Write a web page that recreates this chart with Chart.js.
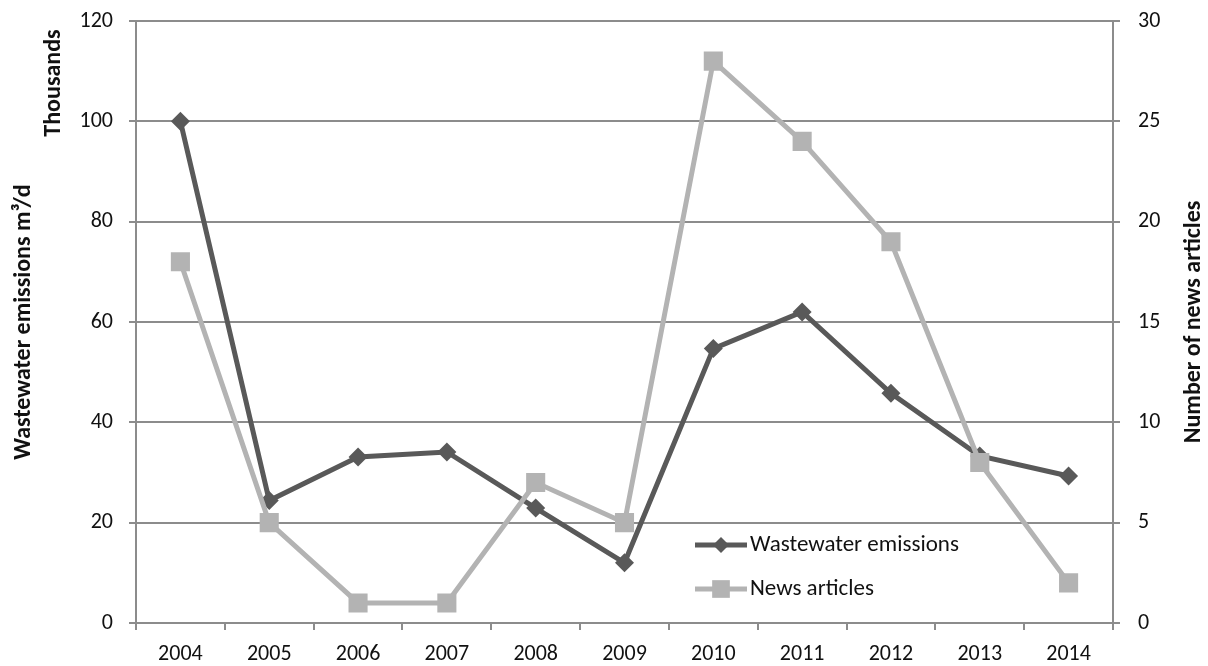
<!DOCTYPE html>
<html>
<head>
<meta charset="utf-8">
<script src="https://cdn.jsdelivr.net/npm/chart.js@4/dist/chart.umd.min.js"></script>
<style>
html,body{margin:0;padding:0;background:#fff;}
#c{display:block;}
</style>
</head>
<body>
<canvas id="c" width="1208" height="666"></canvas>
<script>
const years = ['2004','2005','2006','2007','2008','2009','2010','2011','2012','2013','2014'];
const wastewater = [100, 24.4, 33.1, 34.1, 22.9, 12.0, 54.7, 62.0, 45.8, 33.3, 29.3];
const newsArticles = [18, 5, 1, 1, 7, 5, 28, 24, 19, 8, 2];
const leftTicks = [0, 20, 40, 60, 80, 100, 120];
const rightTicks = [0, 5, 10, 15, 20, 25, 30];
const labelWastewater = 'Wastewater emissions';
const labelNews = 'News articles';
const leftTitle = 'Wastewater emissions m³/d';
const leftUnit = 'Thousands';
const rightTitle = 'Number of news articles';

const FONT = 'Carlito, Lato, "Open Sans", sans-serif';
const GRID = '#8c8c8c';
const TXT = '#111111';
const DARK = '#595959';
const LIGHT = '#b3b3b3';

const overlay = {
  id: 'overlay',
  afterDraw(chart) {
    const ctx = chart.ctx;
    const area = chart.chartArea;
    ctx.save();
    ctx.fillStyle = TXT;
    ctx.textAlign = 'center';
    ctx.textBaseline = 'middle';
    ctx.font = '900 24px ' + FONT;
    const midY = (area.top + area.bottom) / 2;
    // left title
    ctx.save();
    ctx.translate(24, midY);
    ctx.rotate(-Math.PI / 2);
    ctx.fillText(leftTitle, 0, 0);
    ctx.restore();
    // Thousands
    ctx.save();
    ctx.translate(54, 83);
    ctx.rotate(-Math.PI / 2);
    ctx.fillText(leftUnit, 0, 0);
    ctx.restore();
    // right title
    ctx.save();
    ctx.translate(1194, midY);
    ctx.rotate(-Math.PI / 2);
    ctx.fillText(rightTitle, 0, 0);
    ctx.restore();

    // legend
    const items = chart.data.datasets;
    const lx0 = 695, lx1 = 747, ys = [545, 589];
    items.forEach((ds, i) => {
      const y = ys[i];
      ctx.strokeStyle = ds.borderColor;
      ctx.lineWidth = ds.borderWidth;
      ctx.beginPath();
      ctx.moveTo(lx0, y);
      ctx.lineTo(lx1, y);
      ctx.stroke();
      ctx.fillStyle = ds.pointBackgroundColor;
      Chart.helpers.drawPoint(ctx, {pointStyle: ds.pointStyle, radius: ds.legendRadius, borderWidth: 0}, (lx0 + lx1) / 2, y);
      ctx.fillStyle = TXT;
      ctx.textAlign = 'left';
      ctx.font = '23px ' + FONT;
      ctx.fillText(ds.label, 750, y);
    });
    ctx.restore();
  }
};

function fitY(width) {
  return function (s) {
    s.width = width;
    s.paddingTop = 0;
    s.paddingBottom = 0;
  };
}

new Chart(document.getElementById('c'), {
  type: 'line',
  data: {
    labels: years,
    datasets: [
      {
        label: labelWastewater,
        data: wastewater,
        yAxisID: 'y',
        borderColor: DARK,
        backgroundColor: DARK,
        pointBackgroundColor: DARK,
        pointBorderColor: DARK,
        borderWidth: 5,
        pointStyle: 'rectRot',
        pointRadius: 9.5,
        pointBorderWidth: 0,
        legendRadius: 8,
        tension: 0,
        order: 2
      },
      {
        label: labelNews,
        data: newsArticles,
        yAxisID: 'y2',
        borderColor: LIGHT,
        backgroundColor: LIGHT,
        pointBackgroundColor: LIGHT,
        pointBorderColor: LIGHT,
        borderWidth: 5,
        pointStyle: 'rect',
        pointRadius: 13.5,
        pointBorderWidth: 0,
        legendRadius: 12.5,
        tension: 0,
        order: 1
      }
    ]
  },
  options: {
    responsive: false,
    animation: false,
    devicePixelRatio: 1,
    layout: { padding: { top: 21, left: 0, right: 0, bottom: 0 } },
    plugins: {
      legend: { display: false },
      tooltip: { enabled: false },
      title: { display: false }
    },
    scales: {
      x: {
        type: 'category',
        offset: true,
        grid: { offset: true, drawOnChartArea: false, drawTicks: true, tickLength: 7, color: GRID, lineWidth: 2 },
        border: { color: GRID, width: 2 },
        ticks: { color: TXT, font: { family: FONT, size: 22 }, padding: 11, maxRotation: 0, autoSkip: false },
        afterFit(s) { s.height = 43; s.paddingLeft = 0; s.paddingRight = 0; }
      },
      y: {
        position: 'left',
        min: leftTicks[0],
        max: leftTicks[leftTicks.length - 1],
        afterBuildTicks(s) { s.ticks = leftTicks.map(v => ({ value: v })); },
        grid: { color: GRID, lineWidth: 2, tickLength: 7, drawTicks: true },
        border: { color: GRID, width: 2 },
        ticks: { color: TXT, font: { family: FONT, size: 22 }, padding: 16 },
        afterFit: fitY(136)
      },
      y2: {
        position: 'right',
        min: rightTicks[0],
        max: rightTicks[rightTicks.length - 1],
        afterBuildTicks(s) { s.ticks = rightTicks.map(v => ({ value: v })); },
        grid: { drawOnChartArea: false, color: GRID, lineWidth: 2, tickLength: 7, drawTicks: true },
        border: { color: GRID, width: 2 },
        ticks: { color: TXT, font: { family: FONT, size: 22 }, padding: 18 },
        afterFit: fitY(95)
      }
    }
  },
  plugins: [overlay]
});
</script>
</body>
</html>
